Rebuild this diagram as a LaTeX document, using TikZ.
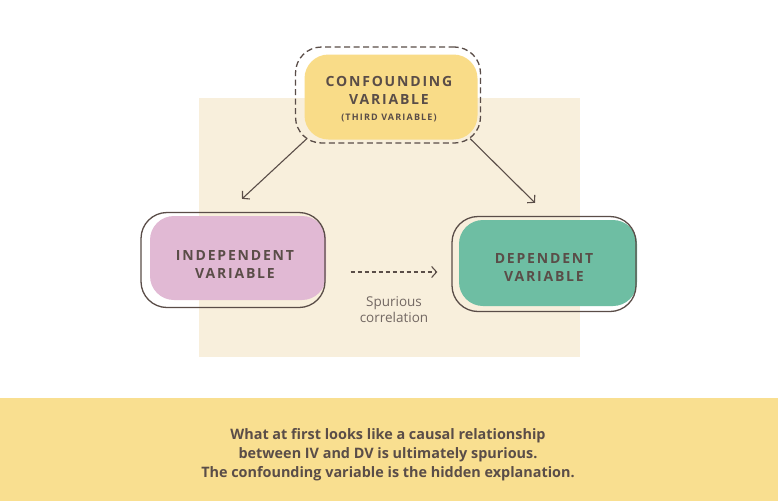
\documentclass[tikz,border=0pt]{standalone}
\usepackage{fontspec}
\setmainfont{Open Sans}
\newfontfamily\capsfont[LetterSpace=13]{Open Sans}
\usetikzlibrary{
    positioning,
    arrows.meta
}
\definecolor{panel}{HTML}{F8EFDC}
\definecolor{band}{HTML}{F9DF90}
\definecolor{cvyellow}{HTML}{F9DC88}
\definecolor{ivpink}{HTML}{E1B9D4}
\definecolor{dvgreen}{HTML}{6EBEA3}
\definecolor{ink}{HTML}{5A4D48}

\begin{document}
\begin{tikzpicture}[
    x=1pt, y=-1pt,
    every node/.style={text=ink},
    fillbox/.style={
        rectangle,
        rounded corners=24pt,
        inner sep=0pt
    },
    block/.style={
        rectangle,
        draw=ink,
        rounded corners=26pt,
        line width=1.3pt,
        inner sep=0pt
    },
    caps/.style={
        align=center,
        font=\capsfont\bfseries\fontsize{14}{18}\selectfont
    },
    arrow/.style={-{Straight Barb[length=5pt,width=11pt]}, draw=ink, line width=1.1pt},
    label/.style={font=\fontsize{13.5}{16}\selectfont, align=center, text=ink!85}
]
\useasboundingbox (0,0) rectangle (778,501);

% ---------- Background ----------
\fill[white] (0,0) rectangle (778,501);
\fill[panel] (199,98) rectangle (580,357);
\fill[band] (0,398) rectangle (778,501);

% ---------- Filled boxes ----------
\node[fillbox, fill=cvyellow, minimum width=173pt, minimum height=85pt] (cvfill) at (391,97) {};
\node[fillbox, fill=ivpink, minimum width=176pt, minimum height=84pt] (ivfill) at (238,258) {};
\node[fillbox, fill=dvgreen, minimum width=178pt, minimum height=86pt] (dvfill) at (548,263) {};

% ---------- Outlines ----------
\node[block, dashed, dash pattern=on 6pt off 3.5pt, minimum width=185pt, minimum height=96pt] (cv) at (388,95) {};
\node[block, minimum width=184pt, minimum height=95pt] (iv) at (233,260) {};
\node[block, minimum width=184pt, minimum height=95pt] (dv) at (544,264) {};

% ---------- Box texts ----------
\node[caps] (cvtext) at (389,99)
    {CONFOUNDING\\VARIABLE\\[-2pt]{\fontsize{9}{12}\selectfont(THIRD VARIABLE)}};
\node[caps] (ivtext) at (235,264) {INDEPENDENT\\VARIABLE};
\node[caps] (dvtext) at (544,267) {DEPENDENT\\VARIABLE};

% ---------- Arrows ----------
\draw[arrow] ([shift={(12pt,5pt)}]cv.south west) -- ([shift={(9pt,13pt)}]iv.north);
\draw[arrow] ([shift={(-11pt,5pt)}]cv.south east) -- ([shift={(-9pt,13pt)}]dv.north);
\draw[arrow, dash pattern=on 4pt off 3pt, shorten <=25pt, shorten >=14pt]
    ([yshift=-12pt]iv.east) -- ([yshift=-12pt]iv.east -| dv.west);

\node[label] (spur) at (394,310) {Spurious\\correlation};

% ---------- Caption ----------
\node[align=center, font=\bfseries\fontsize{14.4}{19}\selectfont, text=ink] (caption) at (388,455)
    {What at first looks like a causal relationship\\
     between IV and DV is ultimately spurious.\\
     The confounding variable is the hidden explanation.};

\end{tikzpicture}
\end{document}
